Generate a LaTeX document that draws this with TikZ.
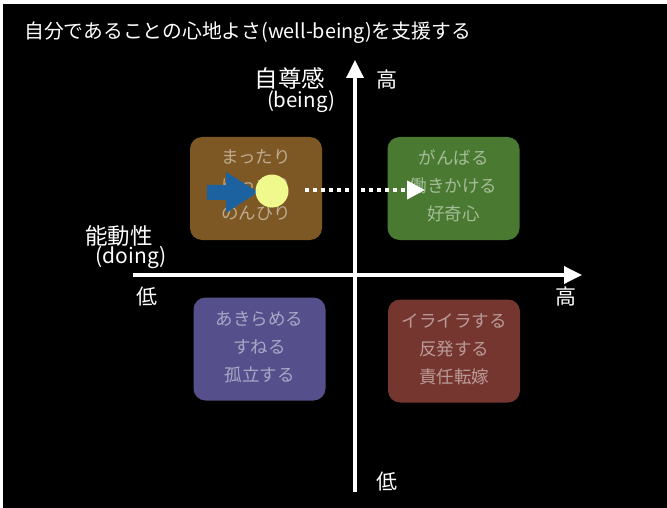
\documentclass[tikz,border=0pt]{standalone}
\usepackage{fontspec}
\setmainfont{Noto Sans CJK JP}
\usetikzlibrary{arrows.meta}
\definecolor{boxbrown}{RGB}{125,88,36}
\definecolor{boxgreen}{RGB}{74,122,50}
\definecolor{boxblue}{RGB}{85,80,140}
\definecolor{boxred}{RGB}{118,54,48}
\definecolor{arrblue}{RGB}{28,98,160}
\definecolor{dotyellow}{RGB}{240,250,140}
\tikzset{
  quad/.style={rounded corners=12pt, minimum width=132pt, minimum height=103pt, inner sep=0pt},
  quadtext/.style={text=white, text opacity=0.5, font=\fontsize{17.5}{28}\selectfont, align=center},
  axis/.style={white, line width=3.5pt, -{Triangle[length=18pt,width=17pt]}},
  lbl/.style={text=white, inner sep=0pt}
}
\begin{document}
\begin{tikzpicture}[x=1pt,y=-1pt]
\useasboundingbox (0,0) rectangle (667,508);
\fill[white] (0,0) rectangle (667,508);
\fill[black] (3,4) rectangle (667,508);
% title
\node[lbl, anchor=west, font=\fontsize{19.8}{22}\selectfont] (title) at (24,33) {自分であることの心地よさ(well-being)を支援する};
% quadrant boxes
\node[quad, fill=boxbrown] (tl) at (256,188.5) {};
\node[quad, fill=boxgreen] (tr) at (453.5,188.5) {};
\node[quad, fill=boxblue] (bl) at (259.5,349) {};
\node[quad, fill=boxred] (br) at (454,351) {};
\node[quadtext] (tlt) at (256,185.5) {まったり\\ゆったり\\のんびり};
\node[quadtext] (trt) at (453.5,185.5) {がんばる\\働きかける\\好奇心};
\node[quadtext] (blt) at (259.5,347) {あきらめる\\すねる\\孤立する};
\node[quadtext] (brt) at (454,349) {イライラする\\反発する\\責任転嫁};
% axes
\coordinate (vb) at (355,492);
\coordinate (vt) at (355,60);
\coordinate (hl) at (133,275);
\coordinate (hr) at (582,275);
\draw[axis] (vb) -- (vt);
\draw[axis] (hl) -- (hr);
% axis labels
\node[lbl, font=\fontsize{21}{22}\selectfont] (hightop) at (387,80) {高};
\node[lbl, font=\fontsize{21}{22}\selectfont] (lowbot) at (387,482) {低};
\node[lbl, font=\fontsize{21}{22}\selectfont] (lowleft) at (147,297) {低};
\node[lbl, font=\fontsize{21}{22}\selectfont] (highright) at (566,297) {高};
\node[lbl, font=\fontsize{23.5}{24}\selectfont] (self) at (290,79) {自尊感};
\node[lbl, font=\fontsize{20.5}{22}\selectfont] (being) at (301,102) {(being)};
\node[lbl, font=\fontsize{22.5}{24}\selectfont] (act) at (119,236) {能動性};
\node[lbl, font=\fontsize{21}{22}\selectfont] (doing) at (131,258) {(doing)};
% blue arrow and yellow dot
\fill[arrblue] (207,185) -- (226,185) -- (226,172) -- (258,192) -- (226,213) -- (226,200) -- (207,200) -- cycle;
\node[circle, fill=dotyellow, minimum size=33pt, inner sep=0pt] (ydot) at (272,191) {};
\coordinate (ds) at (305,190);
\coordinate (de) at (425,190);
\draw[white, line width=4pt, dash pattern=on 4pt off 4pt,
      -{Triangle[length=18pt,width=18pt]}] (ds) -- (de);
\end{tikzpicture}
\end{document}
